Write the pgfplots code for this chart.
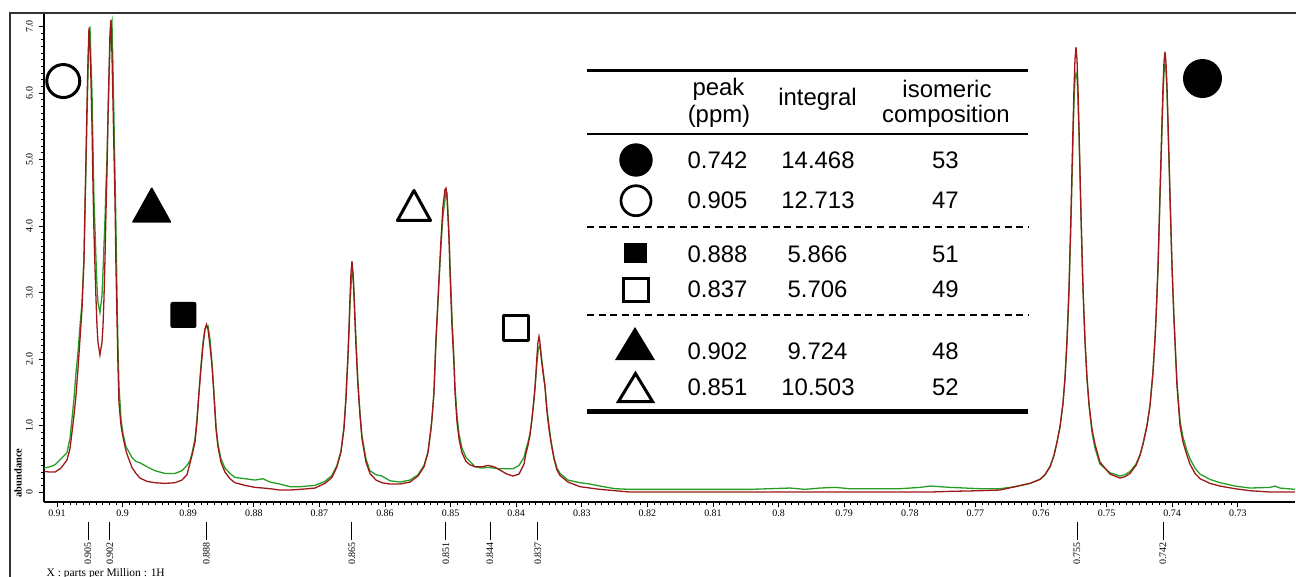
\documentclass[border=0pt]{standalone}
\usepackage{fontspec}
\setmainfont{Liberation Sans}
\newfontfamily\serif{Liberation Serif}
\usepackage{pgfplots}
\pgfplotsset{compat=1.18}
\usepackage{pgfplotstable}
\definecolor{specred}{RGB}{158,24,24}
\definecolor{specgreen}{RGB}{38,158,38}
\newcommand{\tabf}{\fontsize{24}{28}\selectfont}
\newcommand{\axf}{\serif\fontsize{10}{12}\selectfont}

\pgfplotstableread{
ppm red green
0.91198 0.31 0.36
0.91107 0.30 0.38
0.91030 0.30 0.41
0.90939 0.36 0.50
0.90848 0.48 0.59
0.90802 0.65 0.80
0.90771 0.90 1.10
0.90741 1.15 1.40
0.90710 1.45 1.80
0.90680 1.85 2.09
0.90649 2.30 2.50
0.90619 2.74 2.84
0.90588 3.50 3.50
0.90573 4.30 4.20
0.90558 5.00 4.90
0.90543 5.80 5.60
0.90527 6.50 6.30
0.90512 6.98 6.85
0.90497 6.70 7.00
0.90482 6.20 6.50
0.90466 5.50 6.00
0.90451 4.60 5.20
0.90436 3.90 4.40
0.90421 3.40 3.98
0.90405 2.90 3.50
0.90390 2.50 3.10
0.90375 2.25 2.85
0.90345 2.06 2.70
0.90314 2.25 2.95
0.90299 2.48 3.29
0.90284 2.90 3.70
0.90268 3.50 4.10
0.90253 4.20 4.60
0.90238 4.80 5.00
0.90223 5.60 5.60
0.90207 6.30 6.20
0.90192 6.90 6.70
0.90177 7.10 7.00
0.90162 6.60 7.08
0.90146 5.85 6.40
0.90131 5.10 5.60
0.90116 4.40 4.80
0.90101 3.40 4.00
0.90085 2.59 3.00
0.90070 1.90 2.20
0.90055 1.34 1.60
0.90024 1.00 1.10
0.89994 0.83 0.88
0.89948 0.62 0.68
0.89918 0.53 0.63
0.89857 0.37 0.52
0.89796 0.28 0.46
0.89735 0.21 0.44
0.89628 0.16 0.38
0.89506 0.14 0.32
0.89354 0.13 0.28
0.89201 0.14 0.28
0.89095 0.18 0.32
0.89018 0.26 0.40
0.88973 0.43 0.47
0.88942 0.55 0.58
0.88896 0.75 0.80
0.88866 1.05 1.10
0.88835 1.50 1.50
0.88805 1.85 1.90
0.88774 2.20 2.25
0.88744 2.45 2.45
0.88721 2.52 2.48
0.88698 2.45 2.50
0.88668 2.20 2.30
0.88637 1.90 1.95
0.88607 1.45 1.50
0.88576 0.95 1.00
0.88546 0.68 0.72
0.88500 0.45 0.50
0.88439 0.30 0.36
0.88363 0.20 0.28
0.88287 0.14 0.22
0.88134 0.10 0.20
0.87982 0.07 0.18
0.87860 0.06 0.20
0.87753 0.05 0.15
0.87601 0.03 0.12
0.87448 0.03 0.08
0.87296 0.04 0.08
0.87067 0.06 0.10
0.86915 0.13 0.16
0.86808 0.22 0.25
0.86732 0.38 0.40
0.86671 0.60 0.62
0.86625 0.95 0.98
0.86595 1.40 1.42
0.86564 2.05 2.05
0.86549 2.45 2.40
0.86534 2.90 2.80
0.86518 3.30 3.10
0.86503 3.47 3.30
0.86488 3.30 3.30
0.86473 2.95 3.05
0.86457 2.55 2.65
0.86442 2.20 2.30
0.86412 1.60 1.65
0.86381 1.15 1.20
0.86351 0.80 0.85
0.86290 0.45 0.50
0.86229 0.28 0.32
0.86137 0.18 0.26
0.86046 0.14 0.24
0.85924 0.12 0.17
0.85771 0.12 0.15
0.85619 0.15 0.18
0.85497 0.24 0.26
0.85405 0.38 0.40
0.85345 0.59 0.60
0.85299 0.95 0.95
0.85284 1.10 1.10
0.85253 1.50 1.50
0.85238 1.91 1.88
0.85223 2.30 2.25
0.85207 2.60 2.55
0.85177 3.20 3.15
0.85146 3.80 3.70
0.85116 4.30 4.15
0.85085 4.55 4.40
0.85070 4.57 4.50
0.85055 4.45 4.50
0.85024 3.80 3.90
0.85009 3.30 3.45
0.84979 2.50 2.65
0.84948 1.91 2.00
0.84933 1.50 1.60
0.84902 1.05 1.15
0.84872 0.80 0.88
0.84826 0.59 0.66
0.84765 0.46 0.52
0.84704 0.41 0.46
0.84628 0.38 0.38
0.84521 0.38 0.36
0.84430 0.40 0.37
0.84338 0.38 0.36
0.84247 0.33 0.35
0.84140 0.27 0.35
0.84049 0.24 0.35
0.83957 0.27 0.40
0.83881 0.42 0.52
0.83851 0.58 0.64
0.83820 0.70 0.75
0.83790 0.85 0.88
0.83759 1.10 1.10
0.83729 1.40 1.38
0.83713 1.58 1.55
0.83698 1.80 1.75
0.83683 2.05 1.95
0.83668 2.25 2.10
0.83652 2.34 2.18
0.83637 2.25 2.20
0.83622 2.05 2.10
0.83592 1.80 1.85
0.83561 1.58 1.60
0.83530 1.20 1.25
0.83500 0.95 1.00
0.83470 0.75 0.78
0.83424 0.50 0.52
0.83378 0.33 0.36
0.83332 0.25 0.28
0.83210 0.15 0.18
0.83027 0.08 0.14
0.82875 0.06 0.12
0.82723 0.04 0.09
0.82494 0.02 0.05
0.82265 0.00 0.04
0.81198 0.00 0.04
0.80436 0.00 0.04
0.80131 0.00 0.05
0.79826 0.00 0.06
0.79598 0.00 0.04
0.79369 0.00 0.06
0.79140 0.00 0.07
0.78912 0.00 0.05
0.78149 0.00 0.05
0.77845 0.00 0.07
0.77692 0.00 0.09
0.77387 0.01 0.07
0.76930 0.02 0.05
0.76625 0.03 0.05
0.76396 0.08 0.08
0.76168 0.13 0.13
0.76015 0.19 0.19
0.75939 0.26 0.26
0.75863 0.38 0.38
0.75802 0.55 0.55
0.75756 0.75 0.75
0.75710 0.98 0.98
0.75665 1.33 1.33
0.75634 1.72 1.70
0.75604 2.27 2.25
0.75573 3.07 3.00
0.75543 4.18 4.05
0.75512 5.48 5.30
0.75497 6.07 5.85
0.75482 6.50 6.20
0.75466 6.69 6.30
0.75451 6.50 6.25
0.75436 6.07 5.90
0.75421 5.48 5.40
0.75390 4.18 4.15
0.75360 3.07 3.07
0.75329 2.27 2.27
0.75299 1.72 1.72
0.75268 1.33 1.30
0.75223 0.95 0.90
0.75177 0.72 0.66
0.75101 0.45 0.42
0.74948 0.27 0.29
0.74796 0.21 0.24
0.74720 0.23 0.26
0.74643 0.28 0.31
0.74552 0.40 0.42
0.74491 0.55 0.56
0.74445 0.72 0.72
0.74384 1.00 1.00
0.74338 1.30 1.30
0.74293 1.80 1.80
0.74262 2.30 2.30
0.74247 2.60 2.60
0.74216 3.40 3.35
0.74186 4.50 4.40
0.74155 5.58 5.45
0.74140 6.10 5.95
0.74125 6.47 6.30
0.74110 6.62 6.45
0.74095 6.47 6.35
0.74079 6.10 6.00
0.74064 5.58 5.50
0.74034 4.50 4.45
0.74003 3.40 3.40
0.73973 2.60 2.62
0.73957 2.25 2.28
0.73927 1.60 1.65
0.73881 1.00 1.08
0.73835 0.75 0.82
0.73774 0.55 0.62
0.73729 0.42 0.50
0.73652 0.28 0.36
0.73576 0.20 0.27
0.73424 0.13 0.19
0.73271 0.09 0.14
0.73043 0.05 0.09
0.72814 0.02 0.06
0.72509 0.00 0.07
0.72433 0.00 0.09
0.72357 0.00 0.06
0.72128 0.00 0.04
}\spec

\begin{document}
\begin{tikzpicture}
\useasboundingbox (0,0) rectangle (1296bp,-577bp);
\begin{axis}[
  at={(44bp,-502bp)}, anchor=south west,
  scale only axis, width=1251bp, height=489bp,
  x dir=reverse,
  xmin=0.72128, xmax=0.91198, ymin=-0.150, ymax=7.203,
  axis x line*=bottom, axis y line*=left,
  axis line style={line width=1.2bp, black},
  xtick={0.73,0.74,0.75,0.76,0.77,0.78,0.79,0.80,0.81,0.82,0.83,0.84,0.85,0.86,0.87,0.88,0.89,0.90,0.91},
  xticklabels={0.73,0.74,0.75,0.76,0.77,0.78,0.79,0.8,0.81,0.82,0.83,0.84,0.85,0.86,0.87,0.88,0.89,0.9,0.91},
  ytick={0,1,2,3,4,5,6,7},
  yticklabels={0,1.0,2.0,3.0,4.0,5.0,6.0,7.0},
  minor x tick num=9, minor y tick num=9,
  tick align=outside,
  major tick length=5bp, minor tick length=3bp,
  tick style={black, line width=0.8bp},
  ticklabel style={font=\axf},
  xticklabel style={inner sep=1pt},
  xticklabel shift=2bp,
  yticklabel style={rotate=90, anchor=south, inner sep=1pt},
  yticklabel shift=5bp,
  clip mode=individual,
]
\addplot[specgreen, line width=1.3bp] table[x=ppm, y=green]{\spec};
\addplot[specred, line width=1.3bp] table[x=ppm, y=red]{\spec};

% symbols in the plot
\draw[line width=3bp] (axis cs:0.90904,6.180) circle[radius=16.5bp];
\fill[rounded corners=1bp] (axis cs:0.89556,4.050) ++(-20bp,0bp) -- ++(40bp,0bp) -- ++(-20bp,36bp) -- cycle;
\fill[rounded corners=2bp] (axis cs:0.89072,2.662) ++(-13bp,-13bp) rectangle ++(26bp,26bp);
\draw[line width=3bp, line join=round] (axis cs:0.85558,4.083) ++(-16.5bp,0bp) -- ++(33bp,0bp) -- ++(-16.5bp,30bp) -- cycle;
\draw[line width=3bp, line join=round] (axis cs:0.84005,2.468) ++(-12.7bp,-12.4bp) rectangle ++(25.4bp,24.8bp);
\fill (axis cs:0.73538,6.218) circle[radius=19.5bp];

% peak picks below the axis
\draw[line width=1bp] (axis cs:0.90527,-0.451) -- (axis cs:0.90527,-0.722) node[rotate=90, anchor=east, font=\axf, inner sep=2pt] {0.905};
\draw[line width=1bp] (axis cs:0.90192,-0.451) -- (axis cs:0.90192,-0.722) node[rotate=90, anchor=east, font=\axf, inner sep=2pt] {0.902};
\draw[line width=1bp] (axis cs:0.88721,-0.451) -- (axis cs:0.88721,-0.722) node[rotate=90, anchor=east, font=\axf, inner sep=2pt] {0.888};
\draw[line width=1bp] (axis cs:0.86503,-0.451) -- (axis cs:0.86503,-0.722) node[rotate=90, anchor=east, font=\axf, inner sep=2pt] {0.865};
\draw[line width=1bp] (axis cs:0.85070,-0.451) -- (axis cs:0.85070,-0.722) node[rotate=90, anchor=east, font=\axf, inner sep=2pt] {0.851};
\draw[line width=1bp] (axis cs:0.84399,-0.451) -- (axis cs:0.84399,-0.722) node[rotate=90, anchor=east, font=\axf, inner sep=2pt] {0.844};
\draw[line width=1bp] (axis cs:0.83668,-0.451) -- (axis cs:0.83668,-0.722) node[rotate=90, anchor=east, font=\axf, inner sep=2pt] {0.837};
\draw[line width=1bp] (axis cs:0.75451,-0.451) -- (axis cs:0.75451,-0.722) node[rotate=90, anchor=east, font=\axf, inner sep=2pt] {0.755};
\draw[line width=1bp] (axis cs:0.74140,-0.451) -- (axis cs:0.74140,-0.722) node[rotate=90, anchor=east, font=\axf, inner sep=2pt] {0.742};
\end{axis}

\begin{scope}[x=1bp, y=-1bp]
% outer frame
\draw[line width=2.3bp, black!80] (10,580) -- (10,13) -- (1300,13);
% axis titles
\node[rotate=90, font=\serif\bfseries\fontsize{10.5}{12}\selectfont, inner sep=0] at (18,473) {abundance};
\node[anchor=base west, font=\serif\fontsize{11.5}{13}\selectfont, inner sep=0] at (46.5,576.5) {X : parts per Million : 1H};

% table rules
\draw[line width=2.7bp] (587,70.7) -- (1028,70.7);
\draw[line width=2.3bp] (587,134) -- (1028,134);
\draw[line width=2bp, dash pattern=on 7bp off 4.6bp] (587,227) -- (1028,227);
\draw[line width=2bp, dash pattern=on 7bp off 4.6bp] (587,315) -- (1028,315);
\draw[line width=4.5bp] (587,411.7) -- (1028,411.7);

% header
\node[anchor=base, font=\tabf, inner sep=0] at (718.5,95) {peak};
\node[anchor=base, font=\tabf, inner sep=0] at (719,122) {(ppm)};
\node[anchor=base, font=\tabf, inner sep=0] at (817.5,105) {integral};
\node[anchor=base, font=\tabf, inner sep=0] at (947,97.7) {isomeric};
\node[anchor=base, font=\tabf, inner sep=0] at (946,122) {composition};

% rows
\node[anchor=base, font=\tabf, inner sep=0] at (717.5,168) {0.742};
\node[anchor=base, font=\tabf, inner sep=0] at (818,168) {14.468};
\node[anchor=base, font=\tabf, inner sep=0] at (945.5,168) {53};
\node[anchor=base, font=\tabf, inner sep=0] at (717.5,208) {0.905};
\node[anchor=base, font=\tabf, inner sep=0] at (818,208) {12.713};
\node[anchor=base, font=\tabf, inner sep=0] at (945.5,208) {47};
\node[anchor=base, font=\tabf, inner sep=0] at (717.5,262) {0.888};
\node[anchor=base, font=\tabf, inner sep=0] at (817.5,262) {5.866};
\node[anchor=base, font=\tabf, inner sep=0] at (945.5,262) {51};
\node[anchor=base, font=\tabf, inner sep=0] at (717.5,297) {0.837};
\node[anchor=base, font=\tabf, inner sep=0] at (817.5,297) {5.706};
\node[anchor=base, font=\tabf, inner sep=0] at (945.5,297) {49};
\node[anchor=base, font=\tabf, inner sep=0] at (717.5,359) {0.902};
\node[anchor=base, font=\tabf, inner sep=0] at (817.5,359) {9.724};
\node[anchor=base, font=\tabf, inner sep=0] at (945.5,359) {48};
\node[anchor=base, font=\tabf, inner sep=0] at (717.5,395) {0.851};
\node[anchor=base, font=\tabf, inner sep=0] at (818,395) {10.503};
\node[anchor=base, font=\tabf, inner sep=0] at (945.5,395) {52};

% row symbols
\fill (636,160) circle[radius=16.7];
\draw[line width=2.7bp] (636,200.7) circle[radius=15];
\fill (624,243) rectangle (647,263);
\draw[line width=3bp] (623.5,278.5) rectangle (648.5,301.5);
\fill (615,360) -- (655,360) -- (635,327) -- cycle;
\draw[line width=3bp, line join=miter] (618.5,401.5) -- (652.5,401.5) -- (635.5,373.5) -- cycle;
\end{scope}
\end{tikzpicture}
\end{document}
